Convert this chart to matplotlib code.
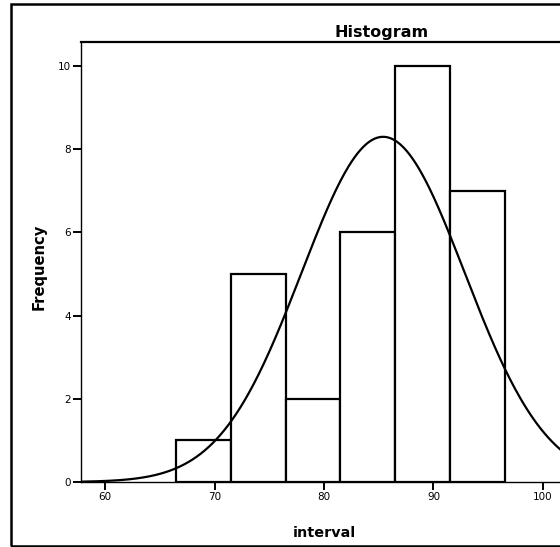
"""Recreate an SPSS-style histogram with a fitted normal curve."""

import matplotlib

matplotlib.use("Agg")
import matplotlib.pyplot as plt
import numpy as np
from matplotlib.patches import Rectangle

# binned values
bin_edges = [66.5, 71.5, 76.5, 81.5, 86.5, 91.5, 96.5]
counts = [1, 5, 2, 6, 10, 7]

# normal curve parameters (SPSS overlay)
curve_mean = 85.4
curve_sd = 7.45

x_ticks = [60, 70, 80, 90, 100]
y_ticks = [0, 2, 4, 6, 8, 10]

W, H = 560, 547


def px(x, y):
    return x / W, 1 - y / H


def main() -> None:
    fig = plt.figure(figsize=(W / 100, H / 100), dpi=100)
    fig.patch.set_facecolor("white")

    # plot area: left 81px, top 42px, bottom 482px, runs past right edge
    left, top, bottom, right = 81, 42, 482, 683
    ax = fig.add_axes([left / W, 1 - bottom / H, (right - left) / W, (bottom - top) / H])

    n = sum(counts)
    widths = np.diff(bin_edges)
    ax.bar(
        bin_edges[:-1],
        counts,
        width=widths,
        align="edge",
        facecolor="white",
        edgecolor="black",
        linewidth=1.6,
        zorder=2,
    )

    xs = np.linspace(57.8, 112.8, 600)
    bw = widths[0]
    ys = n * bw / (curve_sd * np.sqrt(2 * np.pi)) * np.exp(-0.5 * ((xs - curve_mean) / curve_sd) ** 2)
    ax.plot(xs, ys, color="black", linewidth=1.6, zorder=3)

    ax.set_xlim(57.8, 112.8)
    ax.set_ylim(0, 10.58)
    ax.set_xticks(x_ticks)
    ax.set_yticks(y_ticks)
    ax.tick_params(length=5.5, width=1.4, labelsize=7.5, pad=2)
    for side in ("left", "bottom"):
        ax.spines[side].set_linewidth(1.0)
    ax.spines["top"].set_linewidth(1.6)
    ax.spines["right"].set_visible(False)

    fig.text(*px(382, 37), "Histogram", ha="center", va="baseline",
             fontsize=11.5, fontweight="bold", family="DejaVu Sans")
    fig.text(*px(324, 537), "interval", ha="center", va="baseline",
             fontsize=10.4, fontweight="bold", family="DejaVu Sans")
    fig.text(*px(39, 267), "Frequency", ha="center", va="center", rotation=90,
             fontsize=10.6, fontweight="bold", family="DejaVu Sans")

    # outer chart frame
    x0, y0 = px(11, 546)
    x1, y1 = px(900, 4)
    fig.add_artist(Rectangle((x0, y0), x1 - x0, y1 - y0, transform=fig.transFigure,
                             fill=False, edgecolor="black", linewidth=1.8))

    fig.savefig("out.png", dpi=100)
    plt.close(fig)


if __name__ == "__main__":
    main()
